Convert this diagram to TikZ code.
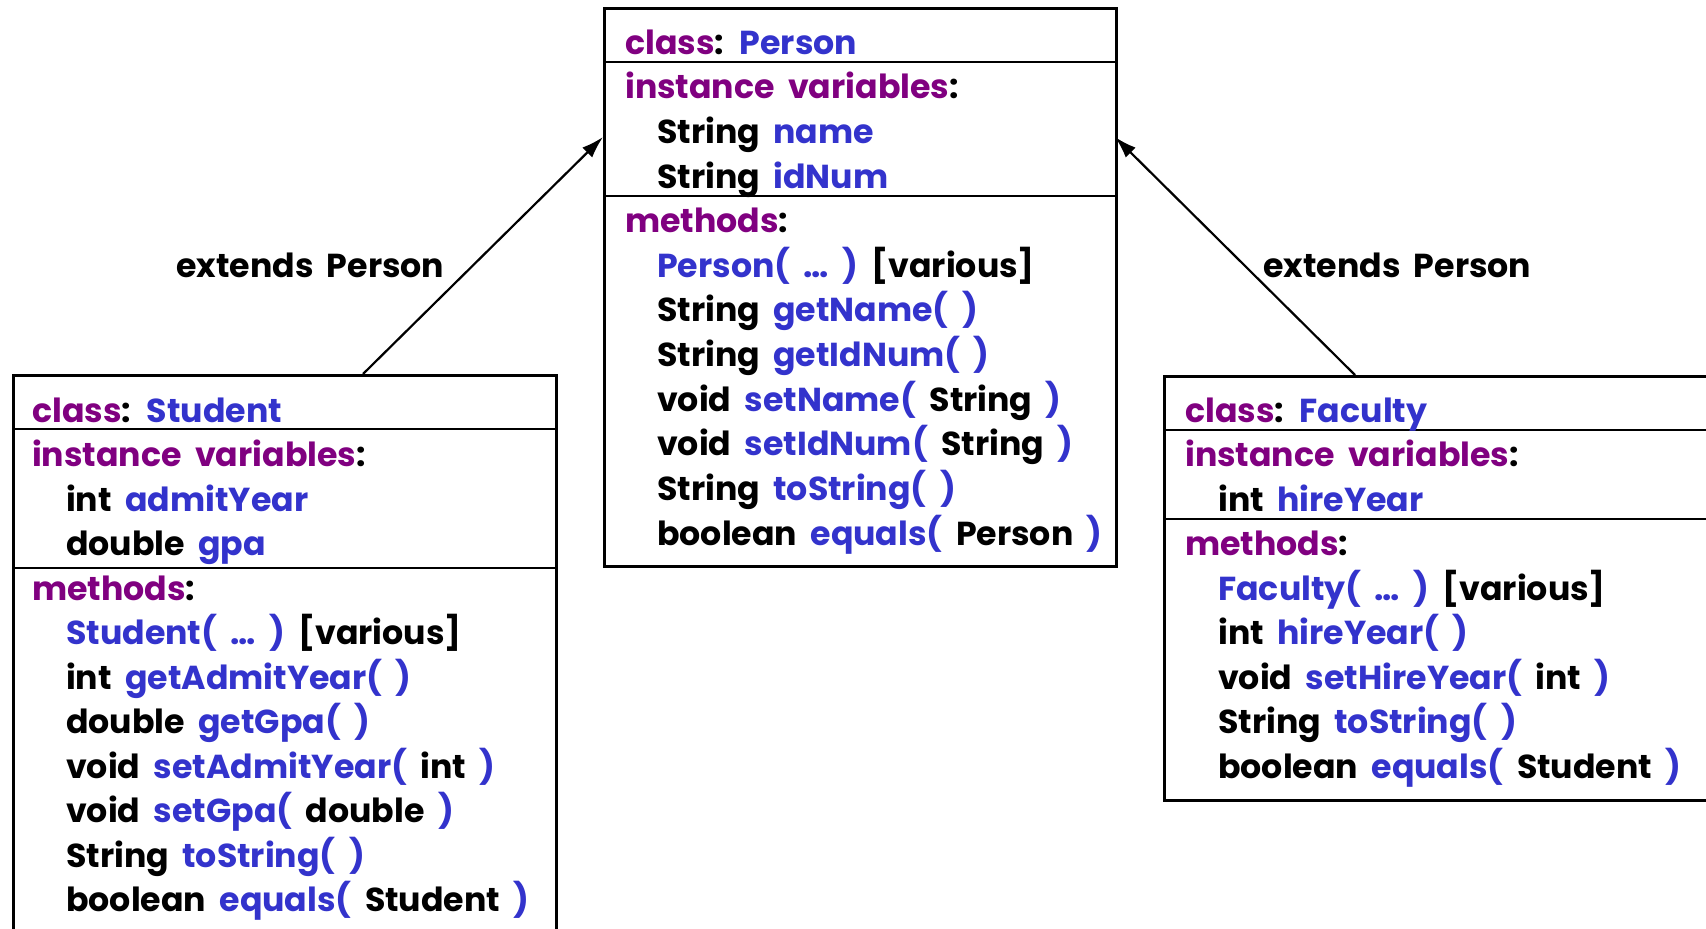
\documentclass[tikz,border=0pt]{standalone}
\usepackage{fontspec}
\setmainfont{Poppins}[WordSpace=1.9]
\usetikzlibrary{arrows.meta}
\definecolor{keyword}{RGB}{128,0,128}
\definecolor{member}{RGB}{51,51,204}
\newcommand\kwd[1]{\textcolor{keyword}{#1}}
\newcommand\mem[1]{\textcolor{member}{#1}}

\begin{document}
\begin{tikzpicture}[x=1pt,y=-1pt,
  umlbox/.style={draw, line width=2.5pt, inner sep=0pt, anchor=north west, rectangle},
  sep/.style={line width=2.5pt},
  entry/.style={anchor=base west, inner sep=0pt, font=\fontsize{33.2}{40}\selectfont\bfseries},
  inherit/.style={line width=2.2pt, -{Latex[length=22pt,width=14pt]}},
]
\useasboundingbox (0,0) rectangle (1706,929);
\clip (0,0) rectangle (1706,929);

% ---------- Person ----------
\node[umlbox, minimum width=512pt, minimum height=558pt] (person) at (603,7) {};
\draw[sep] (person.west |- 0,62)  -- (person.east |- 0,62);
\draw[sep] (person.west |- 0,196) -- (person.east |- 0,196);
\node[entry] (p1)  at (625,54)    {\kwd{class}: \mem{Person}};
\node[entry] (p2)  at (625,98.7)  {\kwd{instance variables}:};
\node[entry] (p3)  at (657,143.3) {String \mem{name}};
\node[entry] (p4)  at (657,188)   {String \mem{idNum}};
\node[entry] (p5)  at (625,232.6) {\kwd{methods}:};
\node[entry] (p6)  at (657,277.3) {\mem{Person( … )} [various]};
\node[entry] (p7)  at (657,321.9) {String \mem{getName( )}};
\node[entry] (p8)  at (657,366.6) {String \mem{getIdNum( )}};
\node[entry] (p9)  at (657,411.2) {void \mem{setName(} String \mem{)}};
\node[entry] (p10) at (657,455.9) {void \mem{setIdNum(} String \mem{)}};
\node[entry] (p11) at (657,500.5) {String \mem{toString( )}};
\node[entry] (p12) at (657,545.2) {boolean \mem{equals(} Person \mem{)}};

% ---------- Student ----------
\node[umlbox, minimum width=543pt, minimum height=600pt] (student) at (12,374) {};
\draw[sep] (student.west |- 0,429) -- (student.east |- 0,429);
\draw[sep] (student.west |- 0,568) -- (student.east |- 0,568);
\node[entry] (s1)  at (32,422)   {\kwd{class}: \mem{Student}};
\node[entry] (s2)  at (32,466.5) {\kwd{instance variables}:};
\node[entry] (s3)  at (66,511)   {int \mem{admitYear}};
\node[entry] (s4)  at (66,555.5) {double \mem{gpa}};
\node[entry] (s5)  at (32,600)   {\kwd{methods}:};
\node[entry] (s6)  at (66,644.5) {\mem{Student( … )} [various]};
\node[entry] (s7)  at (66,689)   {int \mem{getAdmitYear( )}};
\node[entry] (s8)  at (66,733.5) {double \mem{getGpa( )}};
\node[entry] (s9)  at (66,778)   {void \mem{setAdmitYear(} int \mem{)}};
\node[entry] (s10) at (66,822.5) {void \mem{setGpa(} double \mem{)}};
\node[entry] (s11) at (66,867)   {String \mem{toString( )}};
\node[entry] (s12) at (66,911.5) {boolean \mem{equals(} Student \mem{)}};

% ---------- Faculty ----------
\node[umlbox, minimum width=600pt, minimum height=424pt] (faculty) at (1163,375) {};
\draw[sep] (faculty.west |- 0,430) -- (faculty.east |- 0,430);
\draw[sep] (faculty.west |- 0,519) -- (faculty.east |- 0,519);
\node[entry] (f1) at (1185,422)   {\kwd{class}: \mem{Faculty}};
\node[entry] (f2) at (1185,466.5) {\kwd{instance variables}:};
\node[entry] (f3) at (1218,511)   {int \mem{hireYear}};
\node[entry] (f4) at (1185,555.5) {\kwd{methods}:};
\node[entry] (f5) at (1218,600)   {\mem{Faculty( … )} [various]};
\node[entry] (f6) at (1218,644.5) {int \mem{hireYear( )}};
\node[entry] (f7) at (1218,689)   {void \mem{setHireYear(} int \mem{)}};
\node[entry] (f8) at (1218,733.5) {String \mem{toString( )}};
\node[entry] (f9) at (1218,778)   {boolean \mem{equals(} Student \mem{)}};

% ---------- inheritance arrows ----------
\coordinate (sTop) at (363,374);
\coordinate (fTop) at (1355,375);
\coordinate (pLeft) at (603,137);
\coordinate (pRight) at (1115,137);
\draw[inherit] (sTop) -- (pLeft);
\draw[inherit] (fTop) -- (pRight);
\node[entry] (extL) at (176,277)  {extends Person};
\node[entry] (extR) at (1263,277) {extends Person};
\end{tikzpicture}
\end{document}
